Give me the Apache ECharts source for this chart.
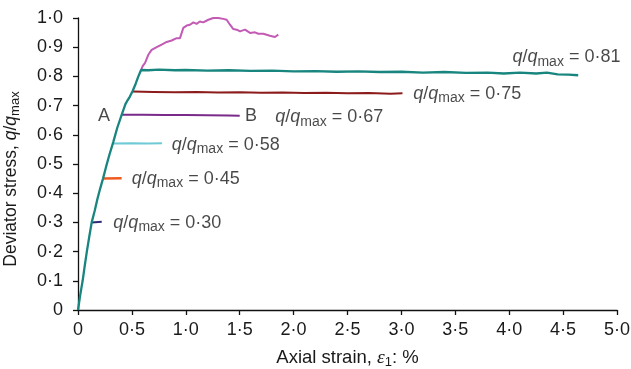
<!DOCTYPE html>
<html>
<head>
<meta charset="utf-8">
<script src="https://cdn.jsdelivr.net/npm/echarts@6/dist/echarts.min.js"></script>
<style>html,body{margin:0;padding:0;background:#fff}#c{width:631px;height:369px}</style>
</head>
<body>
<div id="c"></div>
<script>
// Tick labels
const xTicks = [0, 0.5, 1.0, 1.5, 2.0, 2.5, 3.0, 3.5, 4.0, 4.5, 5.0];
const yTicks = [0, 0.1, 0.2, 0.3, 0.4, 0.5, 0.6, 0.7, 0.8, 0.9, 1.0];

// Series: [axial strain %, q/qmax]
const test100 = [[0.585,0.822],[0.60,0.835],[0.622,0.846],[0.652,0.874],[0.683,0.891],[0.73,0.90],[0.776,0.909],[0.823,0.918],[0.869,0.923],[0.915,0.931],[0.93,0.937],[0.946,0.931],[0.962,0.949],[0.977,0.966],[1.008,0.974],[1.039,0.977],[1.07,0.985],[1.10,0.980],[1.13,0.988],[1.162,0.985],[1.209,0.994],[1.255,1.0],[1.302,1.0],[1.348,0.997],[1.379,0.994],[1.41,0.977],[1.441,0.962],[1.472,0.96],[1.503,0.954],[1.549,0.96],[1.596,0.949],[1.642,0.951],[1.673,0.946],[1.719,0.946],[1.781,0.939],[1.827,0.935],[1.858,0.943]];
const test081 = [[0,0],[0.02,0.05],[0.043,0.1],[0.062,0.15],[0.082,0.2],[0.104,0.25],[0.127,0.3],[0.155,0.34],[0.18,0.38],[0.205,0.415],[0.232,0.45],[0.26,0.49],[0.29,0.53],[0.327,0.575],[0.365,0.625],[0.405,0.668],[0.44,0.705],[0.455,0.715],[0.48,0.73],[0.507,0.75],[0.535,0.775],[0.56,0.80],[0.585,0.822],[0.65,0.821],[0.75,0.823],[0.9,0.821],[1.0,0.822],[1.2,0.82],[1.4,0.821],[1.6,0.819],[1.8,0.82],[2.0,0.817],[2.2,0.818],[2.4,0.816],[2.6,0.817],[2.8,0.815],[3.0,0.816],[3.2,0.813],[3.4,0.815],[3.6,0.812],[3.8,0.813],[3.95,0.81],[4.1,0.813],[4.25,0.81],[4.35,0.813],[4.45,0.807],[4.55,0.806],[4.64,0.804]];
const test075 = [[0.507,0.748],[0.7,0.747],[0.9,0.746],[1.1,0.747],[1.3,0.745],[1.5,0.746],[1.7,0.744],[1.9,0.745],[2.1,0.743],[2.3,0.744],[2.5,0.742],[2.7,0.743],[2.9,0.741],[3.01,0.742]];
const test067 = [[0.405,0.669],[0.6,0.669],[0.8,0.668],[1.0,0.668],[1.2,0.667],[1.4,0.666],[1.5,0.665]];
const test058 = [[0.32,0.57],[0.5,0.571],[0.65,0.57],[0.78,0.571]];
const test045 = [[0.232,0.45],[0.405,0.451]];
const test030 = [[0.127,0.30],[0.22,0.302]];

// Annotations
const annotationText = ['0·81', '0·75', '0·67', '0·58', '0·45', '0·30'];
const annotationX = [4.03, 3.11, 1.83, 0.869, 0.498, 0.328];
const annotationY = [0.865, 0.740, 0.660, 0.566, 0.450, 0.299];
const pointLabels = ['A', 'B'];
const pointX = [0.297, 1.55];
const pointY = [0.663, 0.663];

const FONT = 'Liberation Sans, Arial, sans-serif';
const INK = '#1a1a1a';
const rich = {
  n: {fontSize: 18, fontFamily: FONT, color: INK},
  i: {fontSize: 18, fontFamily: FONT, fontStyle: 'italic', color: INK},
  s: {fontSize: 14, fontFamily: FONT, color: INK, padding: [9, 0, 0, 0]}
};
const richX = {
  n: {fontSize: 18.5, fontFamily: FONT, color: INK},
  e: {fontSize: 19.5, fontFamily: 'Liberation Serif, serif', fontStyle: 'italic', color: INK},
  s: {fontSize: 13, fontFamily: FONT, color: INK, padding: [9, 0, 0, 0]}
};
const richY = {
  n: {fontSize: 17.5, fontFamily: FONT, color: INK},
  i: {fontSize: 17.5, fontFamily: FONT, fontStyle: 'italic', color: INK},
  s: {fontSize: 13, fontFamily: FONT, color: INK, padding: [9, 0, 0, 0]}
};

function fmt(v) {
  if (v === 0) return '0';
  return v.toFixed(1).replace('.', '·');
}

const annData = annotationText.map((t, k) => ({
  value: [annotationX[k], annotationY[k]],
  label: {formatter: '{i|q}{n|/}{i|q}{s|max}{n| = ' + t + '}', position: 'right', distance: 0, rich: rich}
}));
const ptData = pointLabels.map((t, k) => ({
  value: [pointX[k], pointY[k]],
  label: {formatter: '{n|' + t + '}', position: k === 0 ? 'left' : 'right', distance: 0, rich: rich}
}));

function lineSeries(name, data, color, width, z) {
  return {name, type: 'line', data, showSymbol: false, symbol: 'none', z,
    lineStyle: {color, width}, silent: true, animation: false};
}

const chart = echarts.init(document.getElementById('c'), null, {renderer: 'canvas'});
chart.setOption({
  animation: false,
  grid: {left: 78, right: 14, top: 18, bottom: 59, containLabel: false, outerBoundsMode: 'none'},
  xAxis: {
    type: 'value', min: 0, max: 5, interval: 0.5,
    axisLine: {show: true, lineStyle: {color: '#111', width: 1.3}},
    axisTick: {show: true, length: 5, lineStyle: {color: '#111', width: 1.3}},
    splitLine: {show: false},
    axisLabel: {fontSize: 18, fontFamily: FONT, color: INK, margin: 11, formatter: fmt},
    name: '{n|Axial strain, }{e|ε}{s|1}{n|: %}',
    nameLocation: 'middle', nameGap: 37,
    nameTextStyle: {rich: richX}
  },
  yAxis: {
    type: 'value', min: 0, max: 1, interval: 0.1,
    axisLine: {show: true, lineStyle: {color: '#111', width: 1.3}},
    axisTick: {show: true, length: 5, lineStyle: {color: '#111', width: 1.3}},
    splitLine: {show: false},
    axisLabel: {fontSize: 18, fontFamily: FONT, color: INK, margin: 15, formatter: fmt},
    name: '{n|Deviator stress, }{i|q}{n|/}{i|q}{s|max}',
    nameLocation: 'middle', nameGap: 56,
    nameTextStyle: {rich: richY, padding: [0, 30, 0, 0]}
  },
  series: [
    lineSeries('1.00', test100, '#c35ab4', 2, 2),
    lineSeries('0.75', test075, '#8c1c1c', 2, 3),
    lineSeries('0.67', test067, '#7a2a8a', 2, 3),
    lineSeries('0.58', test058, '#6fcad6', 2, 3),
    lineSeries('0.45', test045, '#f05a22', 2.5, 3),
    lineSeries('0.30', test030, '#2b2b78', 2, 3),
    lineSeries('0.81', test081, '#18857f', 2.3, 4),
    {type: 'scatter', data: annData.concat(ptData), symbolSize: 0, silent: true,
      label: {show: true}, z: 5}
  ]
});
</script>
</body>
</html>
